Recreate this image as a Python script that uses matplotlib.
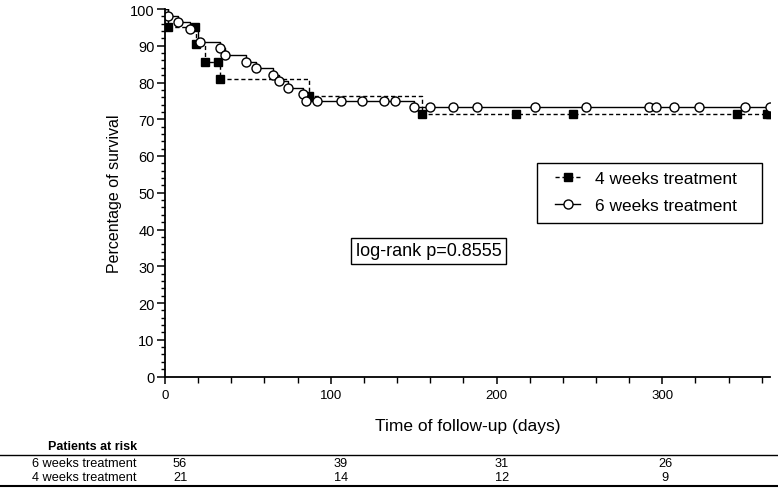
import matplotlib
matplotlib.use('Agg')
import matplotlib.pyplot as plt
from matplotlib.lines import Line2D
from matplotlib.patches import Rectangle
from matplotlib.ticker import MultipleLocator

plt.rcParams['font.family'] = ['Liberation Sans', 'DejaVu Sans']

# 4 weeks treatment: step function (drop times, survival %)
t4 = [0, 2, 19, 24, 33, 87, 155, 365]
s4 = [100, 95.2, 90.5, 85.7, 81.0, 76.2, 71.4, 71.4]
# symbols shown on the 4 weeks curve
m4_t = [2, 18, 19, 24, 32, 33, 87, 155, 212, 246, 345, 363, 365]
m4_s = [95.2, 95.2, 90.5, 85.7, 85.7, 81.0, 76.2, 71.4, 71.4, 71.4, 71.4, 71.4, 71.4]

# 6 weeks treatment
t6 = [0, 2, 8, 15, 20, 33, 36, 49, 55, 65, 69, 74, 83, 85, 150, 365]
s6 = [100, 98.2, 96.4, 94.6, 91.1, 89.3, 87.5, 85.7, 83.9, 82.1, 80.4, 78.6,
      76.8, 75.0, 73.2, 73.2]
m6_t = [2, 8, 15, 21, 33, 36, 49, 55, 65, 69, 74, 83, 85, 92, 106, 119, 132,
        139, 150, 160, 174, 188, 223, 254, 292, 296, 307, 322, 350, 365]
m6_s = [98.2, 96.4, 94.6, 91.1, 89.3, 87.5, 85.7, 83.9, 82.1, 80.4, 78.6, 76.8,
        75.0, 75.0, 75.0, 75.0, 75.0, 75.0, 73.2, 73.2, 73.2, 73.2, 73.2, 73.2,
        73.2, 73.2, 73.2, 73.2, 73.2, 73.2]

risk_groups = ['6 weeks treatment', '4 weeks treatment']
risk_counts = [[56, 39, 31, 26], [21, 14, 12, 9]]
risk_x = [180, 341, 502, 665]  # pixel centres of the at-risk numbers

W, H = 778, 489
fig = plt.figure(figsize=(W / 100, H / 100), dpi=100)
ax = fig.add_axes([165 / W, (H - 377.5) / H, (770 - 165) / W, (377.5 - 10) / H])

ax.step(t4, s4, where='post', color='black', lw=1, ls=(0, (3, 2)))
ax.plot(m4_t, m4_s, ls='none', marker='s', ms=6, color='black')
ax.step(t6, s6, where='post', color='black', lw=1)
ax.plot(m6_t, m6_s, ls='none', marker='o', ms=6.5, mfc='white', mec='black', mew=1)

ax.set_xlim(0, 365)
ax.set_ylim(0, 100)
ax.xaxis.set_major_locator(MultipleLocator(100))
ax.xaxis.set_minor_locator(MultipleLocator(20))
ax.yaxis.set_major_locator(MultipleLocator(10))
ax.yaxis.set_minor_locator(MultipleLocator(2))
for side in ['top', 'right']:
    ax.spines[side].set_visible(False)
for side in ['left', 'bottom']:
    ax.spines[side].set_linewidth(1.3)
ax.tick_params(axis='y', which='major', length=6, width=1.1, labelsize=10.5, pad=1.5)
ax.tick_params(axis='y', which='minor', length=3, width=1)
ax.tick_params(axis='x', which='major', length=5, width=1.1, labelsize=9.5, pad=4)
ax.tick_params(axis='x', which='minor', length=4, width=1)
ax.set_xlabel('Time of follow-up (days)', fontsize=12.5, labelpad=12)
ax.set_ylabel('Percentage of survival', fontsize=11.5, labelpad=6)

# legend, with its frame drawn separately to get the wider side margins
h4 = Line2D([], [], color='black', lw=1, ls=(0, (3, 2)), marker='s', ms=6)
h6 = Line2D([], [], color='black', lw=1, marker='o', ms=6.5, mfc='white', mec='black')
ax.legend([h4, h6], ['4 weeks treatment', '6 weeks treatment'],
          loc='upper left', bbox_to_anchor=(555 / W, (H - 172) / H),
          bbox_transform=fig.transFigure,
          fontsize=12.5, frameon=False, handlelength=1.45,
          borderpad=0, labelspacing=0.65, handletextpad=0.85, borderaxespad=0)
fig.add_artist(Rectangle((537 / W, (H - 224) / H), (762 - 537) / W, 60 / H,
                         transform=fig.transFigure, fill=False, ec='black', lw=1))

ax.text(159, 34.2, 'log-rank p=0.8555', fontsize=13, ha='center', va='center',
        bbox=dict(boxstyle='square,pad=0.25', fc='white', ec='black', lw=1))

# patients at risk table
fig.text(137 / W, (H - 447) / H, 'Patients at risk', fontsize=9, fontweight='bold',
         ha='right', va='center')
fig.add_artist(Line2D([0, 1], [(H - 456) / H] * 2, color='black', lw=1))
fig.add_artist(Line2D([0, 1], [(H - 486.5) / H] * 2, color='black', lw=1.5))
for row, (name, counts) in enumerate(zip(risk_groups, risk_counts)):
    yy = (H - (464 + 14 * row)) / H
    fig.text(137 / W, yy, name, fontsize=9.2, ha='right', va='center')
    for px, c in zip(risk_x, counts):
        fig.text(px / W, yy, str(c), fontsize=9.2, ha='center', va='center')

fig.savefig('out.png', dpi=100)
